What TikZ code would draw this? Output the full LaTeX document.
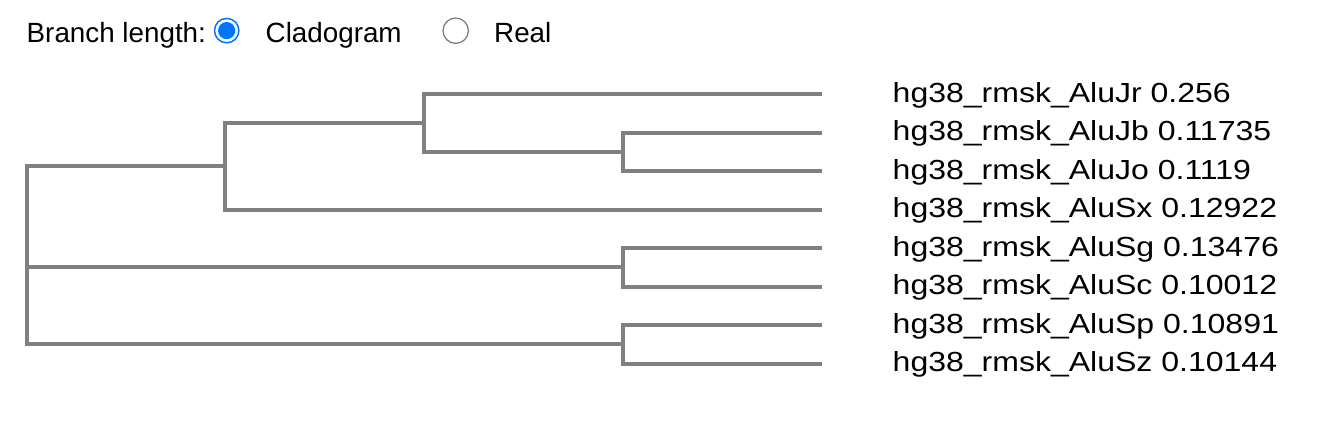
\documentclass[tikz,border=0pt]{standalone}
\usepackage{fontspec}
\setmainfont{Liberation Sans}
\newfontfamily\leaffont[FakeStretch=1.16]{Liberation Sans}
\definecolor{branchgray}{HTML}{808080}
\definecolor{radioblue}{HTML}{0075FF}
\definecolor{radiogray}{HTML}{767676}

\begin{document}
\begin{tikzpicture}[line cap=butt,line join=miter,x=1pt,y=-1pt,
    branch/.style={draw=branchgray,line width=4pt},
    leaflabel/.style={anchor=base west,inner sep=0pt,font=\leaffont\fontsize{27.6}{33}\selectfont},
    toplabel/.style={anchor=base west,inner sep=0pt,font=\fontsize{27.8}{33}\selectfont}]
            \useasboundingbox (0,0) rectangle (1323,421);
            % header with radio buttons
            \node[toplabel] (blen) at (26.5,42.3) {Branch length:};
            \node[toplabel] (clado) at (265.5,42.3) {Cladogram};
            \node[toplabel] (real) at (494,42.3) {Real};
            \draw [radioblue,line width=1.5pt] (226.7,30.6) circle (12.2);
            \fill [radioblue] (226.7,30.6) circle (8.6);
            \draw [radiogray,line width=1.2pt] (455.7,30.7) circle (12.7);
            % leaves
            \foreach \i/\name/\val in {1/Jr/0.256,2/Jb/0.11735,3/Jo/0.1119,4/Sx/0.12922,5/Sg/0.13476,6/Sc/0.10012,7/Sp/0.10891,8/Sz/0.10144} {
                \coordinate (l\i) at (822,{94+38.5*(\i-1)});
                \node[leaflabel] (t\i) at (892.5,{102+38.5*(\i-1)}) {hg38\_rmsk\_Alu\name{} \val};
            }
            % inner nodes
            \coordinate (n1) at (623,151.75);
            \coordinate (n2) at (424,122.9);
            \coordinate (n3) at (225,166.2);
            \coordinate (n4) at (623,267.25);
            \coordinate (n5) at (623,344.25);
            \coordinate (root) at (27,267.25);
            % branches
            \draw [branch] (n1) |- (l2);
            \draw [branch] (n1) |- (l3);
            \draw [branch] (n2) |- (l1);
            \draw [branch] (n2) |- (n1);
            \draw [branch] (n3) |- (n2);
            \draw [branch] (n3) |- (l4);
            \draw [branch] (n4) |- (l5);
            \draw [branch] (n4) |- (l6);
            \draw [branch] (n5) |- (l7);
            \draw [branch] (n5) |- (l8);
            \draw [branch] (root) |- (n3);
            \draw [branch] (root) |- (n4);
            \draw [branch] (root) |- (n5);
        \end{tikzpicture}
\end{document}
